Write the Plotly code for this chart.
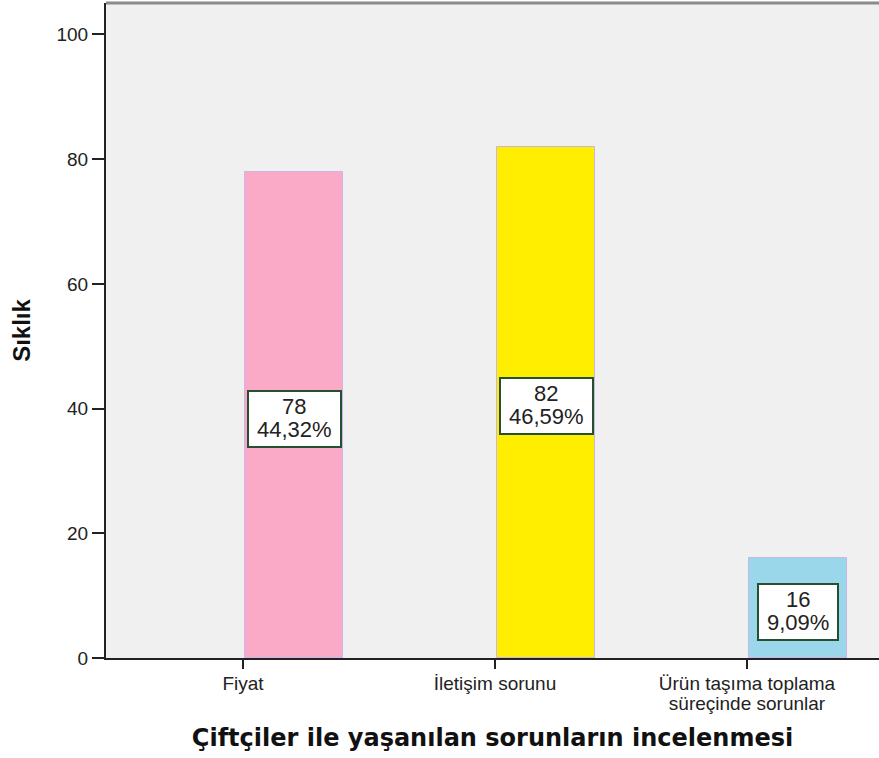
import plotly.graph_objects as go

# Frequencies of problems experienced with farmers
categories = ["Fiyat", "İletişim sorunu", "Ürün taşıma toplama<br>süreçinde sorunlar"]
counts = [78, 82, 16]
percents = ["44,32%", "46,59%", "9,09%"]
bar_colors = ["#FAA9C6", "#FFEE00", "#9BD7EA"]
y_ticks = [0, 20, 40, 60, 80, 100]

positions = list(range(len(categories)))
bar_w = 0.389
bar_off = 0.008

LABEL_FONT = "Liberation Sans, Arial"


def big(text, size):
    """Wrap every line of a label in a larger-font span (keeps the line pitch of the base font)."""
    return "<br>".join(f'<span style="font-size:{size}px">{part}</span>' for part in text.split("<br>"))


fig = go.Figure()
fig.add_trace(go.Bar(
    x=positions,
    y=counts,
    width=bar_w,
    offset=bar_off,
    marker=dict(color=bar_colors, line=dict(color="#C9B6E4", width=1)),
    hoverinfo="skip",
))

# value boxes centred on each bar: a framed white box and a two-line label
for pos, c, p in zip(positions, counts, percents):
    xc = pos + bar_off + bar_w / 2
    longest = max(len(str(c)), len(p))
    fig.add_annotation(
        x=xc, y=c / 2, xref="x", yref="y", text=" ", showarrow=False,
        bgcolor="white", bordercolor="#24502F", borderwidth=2, borderpad=0,
        width=13 * longest + 13, height=54, yshift=-4,
    )
    fig.add_annotation(
        x=xc, y=c / 2, xref="x", yref="y", text=big(f"{c}<br>{p}", 22), showarrow=False,
        font=dict(family=LABEL_FONT, size=17.5, color="#222222"),
        yshift=-3,
    )

# grey frame line along the top of the plot area
fig.add_shape(type="line", xref="paper", yref="paper", x0=0, x1=1, y0=1, y1=1,
              line=dict(color="#8A8A8A", width=3))

tick_text = [big(t, 19) for t in categories]

fig.update_layout(
    width=879, height=758,
    margin=dict(l=106, r=0, t=3, b=100),
    paper_bgcolor="white", plot_bgcolor="#F0F0F0",
    showlegend=False, bargap=0,
    font=dict(family=LABEL_FONT, size=18, color="#222222"),
    xaxis=dict(
        range=[-0.544, 2.524], tickmode="array", tickvals=positions, ticktext=tick_text,
        showline=True, linecolor="#222222", linewidth=2,
        ticks="outside", ticklen=9, tickwidth=2, tickcolor="#222222",
        showgrid=False, zeroline=False, ticklabelstandoff=3,
        tickfont=dict(family=LABEL_FONT, size=15, color="#222222"),
        title=dict(text="Çiftçiler ile yaşanılan sorunların incelenmesi",
                   font=dict(family="DejaVu Sans", size=24, color="#111111", weight="bold"),
                   standoff=17),
    ),
    yaxis=dict(
        range=[0, 105.05], tickmode="array", tickvals=y_ticks,
        showline=True, linecolor="#222222", linewidth=2,
        ticks="outside", ticklen=12, tickwidth=2, tickcolor="#222222",
        showgrid=False, zeroline=False,
        tickfont=dict(family=LABEL_FONT, size=19, color="#222222"),
        title=dict(text="Sıklık",
                   font=dict(family=LABEL_FONT, size=24, color="#111111", weight="bold"),
                   standoff=19),
    ),
)

fig.write_html("out.html")
